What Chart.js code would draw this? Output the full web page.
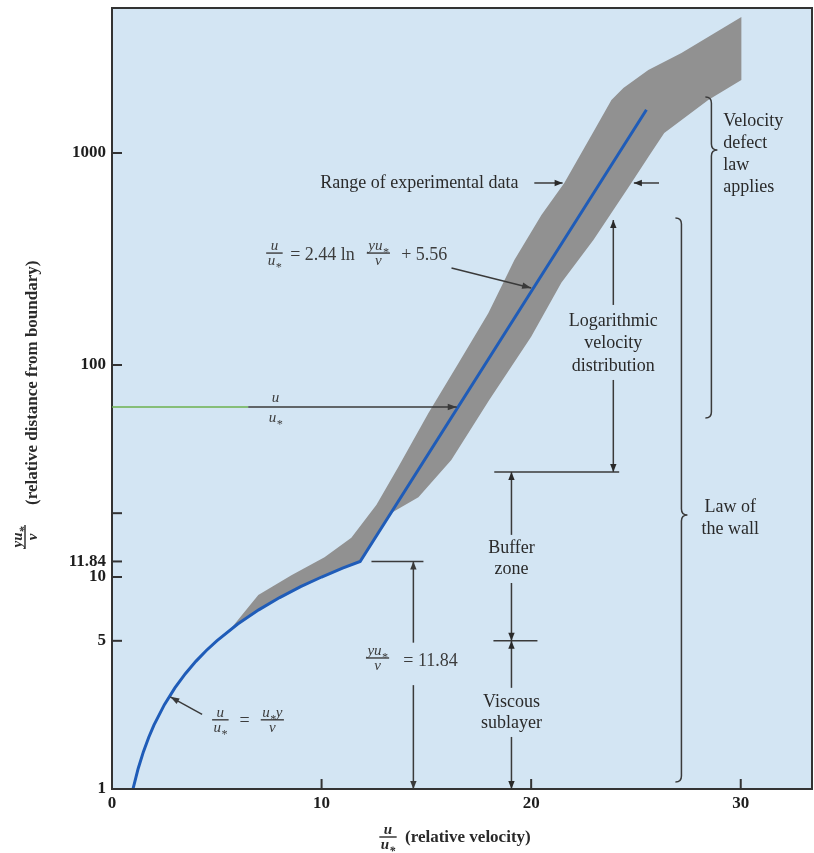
<!DOCTYPE html>
<html><head><meta charset="utf-8">
<script src="https://cdn.jsdelivr.net/npm/chart.js@4.4.1/dist/chart.umd.min.js"></script>
<style>html,body{margin:0;padding:0;background:#fff;}#wrap{width:814px;height:853px;position:relative;}</style>
</head><body><div id="wrap"><canvas id="c" width="814" height="853"></canvas></div>
<script>
// ---- data ----
const xTickValues = [0, 10, 20, 30];
const yTickValues = [1, 5, 10, 11.84, 20, 100, 1000];
const yTickLabels = ['1', '5', '10', '11.84', '', '100', '1000'];

// viscous sublayer  u/u* = u*y/nu
const viscousU = [1, 1.25, 1.5, 1.75, 2, 2.5, 3, 3.5, 4, 4.5, 5, 6, 7, 8, 9, 10, 11, 11.84];
const viscousY = [1, 1.25, 1.5, 1.75, 2, 2.5, 3, 3.5, 4, 4.5, 5, 6, 7, 8, 9, 10, 11, 11.84];
// logarithmic law  u/u* = 2.44 ln(yu*/nu) + 5.56
const logU = [11.84, 25.5];
const logY = [11.84, 1600];
// range of experimental data (grey band outline)
const bandUpperU = [5.6, 6.98, 8.56, 10.14, 11.42, 12.62, 13.66, 15.10, 16.53, 17.96, 19.20, 20.49, 21.58, 23.02, 23.83, 24.40, 25.59, 27.17, 30.03];
const bandUpperY = [5.6, 8.23, 10.2, 12.4, 15.3, 21.9, 33.0, 59.4, 102, 176, 313, 510, 722, 1284, 1778, 2026, 2464, 2962, 4381];
const bandLowerU = [30.03, 28.45, 26.35, 25.59, 24.78, 22.97, 21.44, 20.0, 18.0, 16.19, 14.62, 13.3, 11.84, 11, 10, 9, 8, 7, 6, 5.6];
const bandLowerY = [2210, 1778, 1243, 958, 722, 389, 244, 136, 68.4, 35.6, 23.8, 20, 11.84, 11, 10, 9, 8, 7, 6, 5.6];

const SERIF = '"Liberation Serif","Times New Roman",serif';
const INK = '#2a2a2a';
const LINE = '#3a3a3a';

const bandPts = bandUpperU.map((u, i) => ({x: u, y: bandUpperY[i]}))
  .concat(bandLowerU.map((u, i) => ({x: u, y: bandLowerY[i]})));
const bluePts = viscousU.map((u, i) => ({x: u, y: viscousY[i]}))
  .concat(logU.slice(1).map((u, i) => ({x: u, y: logY[i + 1]})));

function fnt(style, weight, size) { return `${style} ${weight} ${size}px ${SERIF}`; }
function richWidth(ctx, s, size, style, weight) {
  let w = 0;
  for (const ch of s) {
    ctx.font = fnt(style, weight, ch === '*' ? size * 0.8 : size);
    w += ctx.measureText(ch).width;
  }
  return w;
}
function rich(ctx, s, x, y, size, style, weight, align) {
  const w = richWidth(ctx, s, size, style, weight);
  let cx = align === 'center' ? x - w / 2 : (align === 'right' ? x - w : x);
  ctx.textAlign = 'left'; ctx.textBaseline = 'alphabetic';
  for (const ch of s) {
    if (ch === '*') {
      ctx.font = fnt(style, weight, size * 0.8);
      ctx.fillText('*', cx, y + size * 0.42);
    } else {
      ctx.font = fnt(style, weight, size);
      ctx.fillText(ch, cx, y);
    }
    ctx.font = fnt(style, weight, ch === '*' ? size * 0.8 : size);
    cx += ctx.measureText(ch).width;
  }
  return w;
}
function frac(ctx, num, den, cx, cy, size, style, weight, noBar) {
  const wn = richWidth(ctx, num, size, style, weight), wd = richWidth(ctx, den, size, style, weight);
  const w = Math.max(wn, wd) + 3;
  rich(ctx, num, cx, cy - 3, size, style, weight, 'center');
  rich(ctx, den, cx, cy + size * 0.8, size, style, weight, 'center');
  if (!noBar) ctx.fillRect(cx - w / 2, cy - 0.7, w, 1.4);
  return w;
}
function arrow(ctx, x1, y1, x2, y2, head) {
  head = head || 8;
  ctx.beginPath(); ctx.moveTo(x1, y1); ctx.lineTo(x2, y2); ctx.stroke();
  const ang = Math.atan2(y2 - y1, x2 - x1);
  ctx.beginPath();
  ctx.moveTo(x2, y2);
  ctx.lineTo(x2 - head * Math.cos(ang) + 3.2 * Math.sin(ang), y2 - head * Math.sin(ang) - 3.2 * Math.cos(ang));
  ctx.lineTo(x2 - head * Math.cos(ang) - 3.2 * Math.sin(ang), y2 - head * Math.sin(ang) + 3.2 * Math.cos(ang));
  ctx.closePath(); ctx.fill();
}
function line(ctx, x1, y1, x2, y2) { ctx.beginPath(); ctx.moveTo(x1, y1); ctx.lineTo(x2, y2); ctx.stroke(); }
function brace(ctx, x0, yTop, yTip, yBot) {
  const r = 6;
  ctx.beginPath();
  ctx.moveTo(x0 - r, yTop);
  ctx.quadraticCurveTo(x0, yTop, x0, yTop + r);
  ctx.lineTo(x0, yTip - r);
  ctx.quadraticCurveTo(x0, yTip, x0 + r, yTip);
  ctx.quadraticCurveTo(x0, yTip, x0, yTip + r);
  ctx.lineTo(x0, yBot - r);
  ctx.quadraticCurveTo(x0, yBot, x0 - r, yBot);
  ctx.stroke();
}
function label(ctx, s, x, y, align) {
  ctx.font = fnt('normal', 'normal', 18);
  ctx.textAlign = align || 'center'; ctx.textBaseline = 'middle';
  ctx.fillText(s, x, y);
}

const annot = {
  id: 'annot',
  beforeDraw(chart) {
    const {ctx, chartArea: a} = chart;
    ctx.save();
    ctx.fillStyle = '#d3e5f3';
    ctx.fillRect(a.left, a.top, a.right - a.left, a.bottom - a.top);
    ctx.restore();
  },
  afterDraw(chart) {
    const {ctx, chartArea: a} = chart;
    const X = v => chart.scales.x.getPixelForValue(v);
    const Y = v => chart.scales.y.getPixelForValue(v);
    ctx.save();
    // frame
    ctx.strokeStyle = '#333'; ctx.lineWidth = 2;
    ctx.strokeRect(a.left, a.top, a.right - a.left, a.bottom - a.top);
    // inward ticks
    ctx.lineWidth = 2;
    yTickValues.forEach(v => line(ctx, a.left, Y(v), a.left + 10, Y(v)));
    xTickValues.slice(1).forEach(v => line(ctx, X(v), a.bottom, X(v), a.bottom - 10));

    ctx.fillStyle = INK; ctx.strokeStyle = LINE; ctx.lineWidth = 1.5;

    // axis titles
    frac(ctx, 'u', 'u*', 388, 837, 15, 'italic', 'bold');
    ctx.font = fnt('normal', 'bold', 17); ctx.textAlign = 'left'; ctx.textBaseline = 'middle';
    ctx.fillText('(relative velocity)', 405, 838);
    ctx.save();
    ctx.translate(25, 537); ctx.rotate(-Math.PI / 2);
    frac(ctx, 'yu*', 'ν', 0, 0, 15, 'italic', 'bold');
    ctx.font = fnt('normal', 'bold', 17); ctx.textAlign = 'left'; ctx.textBaseline = 'middle';
    ctx.fillText('(relative distance from boundary)', 32, 8);
    ctx.restore();

    // Range of experimental data
    label(ctx, 'Range of experimental data', X(19.4), Y(722), 'right');
    arrow(ctx, X(20.15), Y(722), X(21.5), Y(722), 8);
    arrow(ctx, X(26.1), Y(722), X(24.9), Y(722), 8);

    // log-law equation
    ctx.fillStyle = '#3c3c3c';
    const yEq = Y(330);
    frac(ctx, 'u', 'u*', X(7.75), yEq - 2, 15, 'italic', 'normal');
    ctx.font = fnt('normal', 'normal', 18); ctx.textAlign = 'left'; ctx.textBaseline = 'middle';
    ctx.fillText('= 2.44 ln', X(8.5), yEq);
    frac(ctx, 'yu*', 'ν', X(12.71), yEq - 2, 15, 'italic', 'normal');
    ctx.font = fnt('normal', 'normal', 18); ctx.textAlign = 'left'; ctx.textBaseline = 'middle';
    ctx.fillText('+ 5.56', X(13.8), yEq);
    ctx.fillStyle = LINE;
    arrow(ctx, X(16.2), Y(287), X(20.0), Y(231), 9);

    // horizontal u/u* line
    const yH = Y(63.4);
    ctx.strokeStyle = '#6db14f';
    line(ctx, a.left, yH, X(6.5), yH);
    ctx.strokeStyle = LINE;
    arrow(ctx, X(6.5), yH, X(16.45), yH, 9);
    ctx.fillStyle = '#3c3c3c';
    rich(ctx, 'u', X(7.8), yH - 5, 15, 'italic', 'normal', 'center');
    rich(ctx, 'u*', X(7.8), yH + 15, 15, 'italic', 'normal', 'center');

    // viscous formula
    const yV = Y(2.12);
    frac(ctx, 'u', 'u*', X(5.17), yV, 15, 'italic', 'normal');
    ctx.font = fnt('normal', 'normal', 18); ctx.textAlign = 'center'; ctx.textBaseline = 'middle';
    ctx.fillText('=', X(6.32), yV + 1);
    frac(ctx, 'u*y', 'ν', X(7.65), yV, 15, 'italic', 'normal');
    ctx.fillStyle = LINE;
    arrow(ctx, X(4.3), Y(2.25), X(2.78), Y(2.72), 9);

    // yu*/nu = 11.84 marker
    line(ctx, X(12.38), Y(11.84), X(14.86), Y(11.84));
    arrow(ctx, X(14.38), Y(4.9), X(14.38), Y(11.84), 8);
    arrow(ctx, X(14.38), Y(3.09), X(14.38), Y(1), 8);
    ctx.fillStyle = '#3c3c3c';
    frac(ctx, 'yu*', 'ν', X(12.67), Y(4.15), 15, 'italic', 'normal');
    ctx.font = fnt('normal', 'normal', 18); ctx.textAlign = 'left'; ctx.textBaseline = 'middle';
    ctx.fillText('= 11.84', X(13.9), Y(4.0));

    // buffer zone / viscous sublayer column
    ctx.fillStyle = INK;
    const xb = X(19.06);
    line(ctx, X(18.24), Y(31.3), X(24.2), Y(31.3));
    line(ctx, X(18.2), Y(5), X(20.3), Y(5));
    arrow(ctx, xb, Y(15.8), xb, Y(31.3), 8);
    label(ctx, 'Buffer', xb, Y(13.7));
    label(ctx, 'zone', xb, Y(10.9));
    arrow(ctx, xb, Y(9.37), xb, Y(5), 8);
    arrow(ctx, xb, Y(3.0), xb, Y(5), 8);
    label(ctx, 'Viscous', xb, Y(2.57));
    label(ctx, 'sublayer', xb, Y(2.05));
    arrow(ctx, xb, Y(1.76), xb, Y(1), 8);

    // logarithmic velocity distribution column
    const xl = X(23.92);
    arrow(ctx, xl, Y(192), xl, Y(483), 8);
    label(ctx, 'Logarithmic', xl, Y(160));
    label(ctx, 'velocity', xl, Y(127));
    label(ctx, 'distribution', xl, Y(98.9));
    arrow(ctx, xl, Y(85), xl, Y(31.3), 8);

    // braces
    brace(ctx, X(27.17), Y(494), Y(19.6), Y(1.08));
    label(ctx, 'Law of', X(29.5), Y(21.4));
    label(ctx, 'the wall', X(29.5), Y(16.8));
    brace(ctx, X(28.6), Y(1837), Y(1033), Y(56.3));
    label(ctx, 'Velocity', X(29.17), Y(1416), 'left');
    label(ctx, 'defect', X(29.17), Y(1115), 'left');
    label(ctx, 'law', X(29.17), Y(878), 'left');
    label(ctx, 'applies', X(29.17), Y(691), 'left');
    ctx.restore();
  }
};

new Chart(document.getElementById('c'), {
  type: 'line',
  data: {
    datasets: [
      {label: 'Range of experimental data', data: bandPts, fill: 'shape', backgroundColor: '#919191',
       borderColor: 'rgba(0,0,0,0)', borderWidth: 0, pointRadius: 0, tension: 0, order: 2},
      {label: 'Velocity profile', data: bluePts, fill: false, borderColor: '#1f5cb8', borderWidth: 3,
       pointRadius: 0, tension: 0, order: 1}
    ]
  },
  options: {
    responsive: false, animation: false, devicePixelRatio: 1,
    layout: {padding: {left: 0, top: 8, right: 2, bottom: 0}},
    plugins: {legend: {display: false}, tooltip: {enabled: false}},
    scales: {
      x: {
        type: 'linear', min: 0, max: 33.4,
        afterBuildTicks: s => { s.ticks = xTickValues.map(v => ({value: v})); },
        afterFit: s => { s.height = 64; s.paddingLeft = 0; s.paddingRight = 0; },
        grid: {display: false, drawTicks: false}, border: {display: false},
        ticks: {padding: 4, autoSkip: false, maxRotation: 0, color: '#1e1e1e',
                font: {family: SERIF, size: 17, weight: 'bold'}, callback: v => String(v)}
      },
      y: {
        type: 'logarithmic', min: 1, max: 4830,
        afterBuildTicks: s => { s.ticks = yTickValues.map(v => ({value: v})); },
        afterFit: s => { s.width = 112; s.paddingTop = 0; s.paddingBottom = 0; },
        grid: {display: false, drawTicks: false}, border: {display: false},
        ticks: {padding: 6, autoSkip: false, color: '#1e1e1e',
                font: {family: SERIF, size: 17, weight: 'bold'},
                callback: v => { const i = yTickValues.indexOf(v); return i >= 0 ? yTickLabels[i] : ''; }}
      }
    }
  },
  plugins: [annot]
});
</script>
</body></html>
